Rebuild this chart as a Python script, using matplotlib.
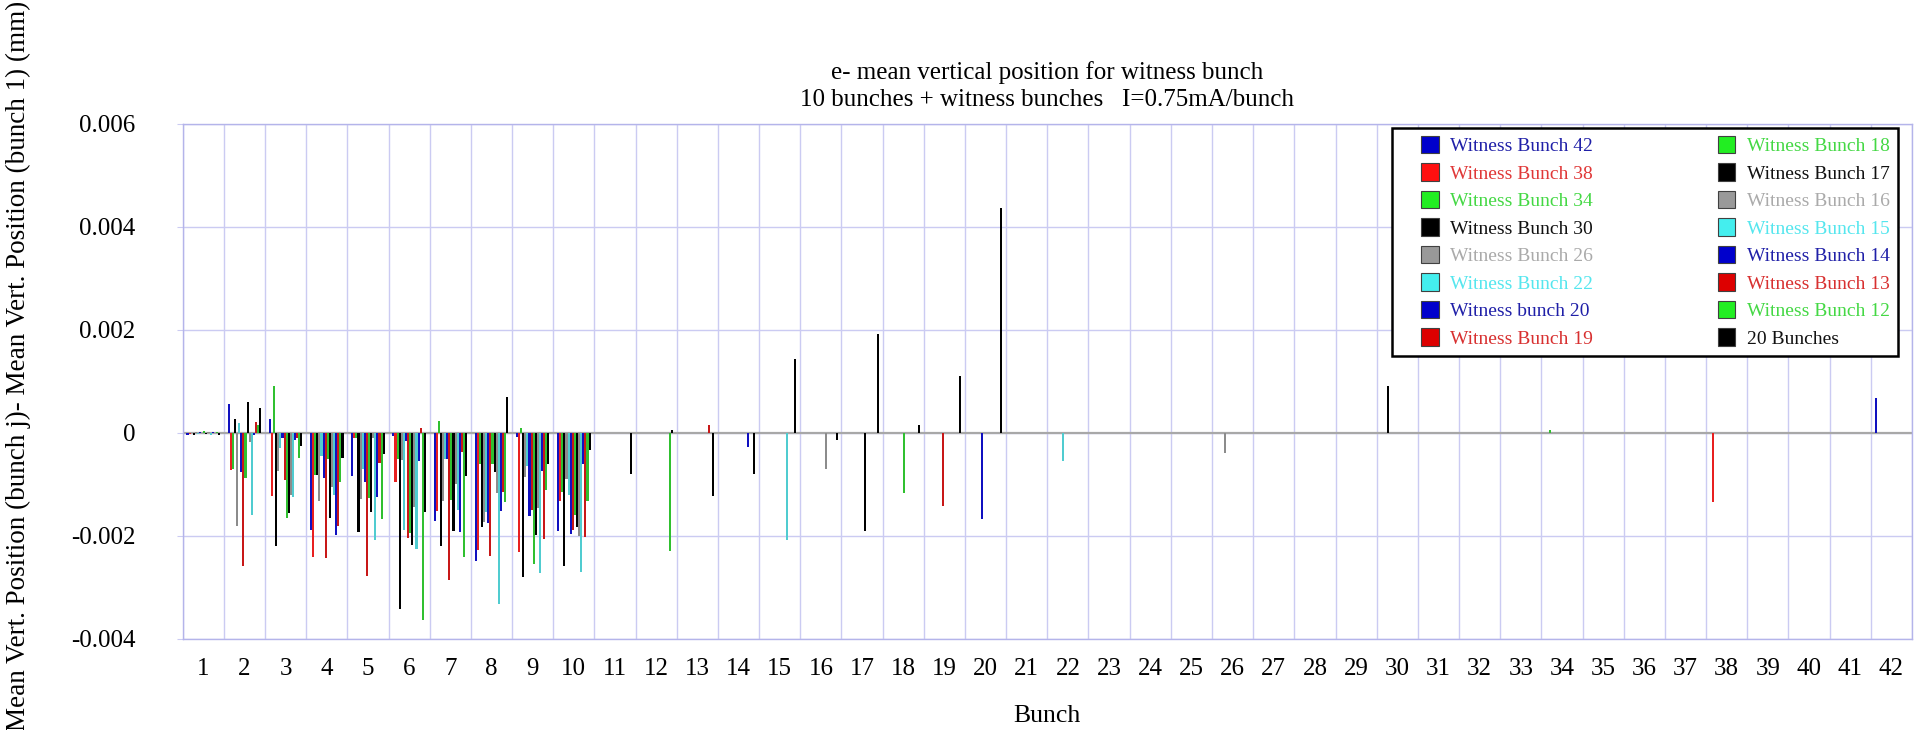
import numpy as np
import matplotlib
matplotlib.use("Agg")
import matplotlib.pyplot as plt
from matplotlib.patches import Rectangle
from matplotlib.legend_handler import HandlerPatch

plt.rcParams['font.family'] = ['Liberation Serif', 'DejaVu Serif']
plt.rcParams['axes.unicode_minus'] = False

# ---- data ---------------------------------------------------------------
bunches = np.arange(1, 43)

series_names = ["Witness Bunch 42", "Witness Bunch 38", "Witness Bunch 34",
                "Witness Bunch 30", "Witness Bunch 26", "Witness Bunch 22",
                "Witness bunch 20", "Witness Bunch 19", "Witness Bunch 18",
                "Witness Bunch 17", "Witness Bunch 16", "Witness Bunch 15",
                "Witness Bunch 14", "Witness Bunch 13", "Witness Bunch 12",
                "20 Bunches"]

# the witness bunch of each series (None for the 20 bunch train)
witness_bunch = [42, 38, 34, 30, 26, 22, 20, 19, 18, 17, 16, 15, 14, 13, 12, None]
witness_value = [0.00067, -0.00135, 0.00006, 0.00091, -0.00038, -0.00054,
                 -0.00167, -0.00141, -0.00116, -0.0019, -0.0007, -0.00207,
                 -0.00028, 0.00016, -0.0023, None]

# values at bunches 1..10 (the 10 bunch train)
wb42 = [-0.00003, 0.00057, 0.00027, -0.00188, -0.00083, -0.00005, -0.0017, -0.00249, -0.00008, -0.0019]
wb38 = [-0.00002, -0.00072, -0.00122, -0.0024, -0.0001, -0.00095, -0.00151, -0.00228, -0.00232, -0.00133]
wb34 = [-0.00001, -0.0007, 0.00091, -0.00081, -0.0001, -0.0005, 0.00024, -0.0006, 0.0001, -0.00114]
wb30 = [-0.00003, 0.00027, -0.00219, -0.00081, -0.00193, -0.00342, -0.0022, -0.00182, -0.0028, -0.00258]
wb26 = [0.00001, -0.0018, -0.00073, -0.00133, -0.00128, -0.00053, -0.00133, -0.00172, -0.00085, -0.0009]
wb22 = [-0.00002, 0.0002, -0.0003, -0.00045, -0.0007, -0.00189, -0.0005, -0.00153, -0.00065, -0.0012]
wb20 = [0.00002, -0.00075, -0.0001, -0.00087, -0.00096, -0.00016, -0.00051, -0.00174, -0.00161, -0.00197]
wb19 = [-0.00001, -0.00258, -0.00091, -0.00242, -0.00277, -0.00203, -0.00285, -0.00238, -0.0015, -0.00189]
wb18 = [0.00003, -0.00087, -0.00165, -0.0005, -0.00127, -0.00194, -0.0013, -0.0006, -0.00254, -0.0016]
wb17 = [-0.00002, 0.0006, -0.00155, -0.00166, -0.00153, -0.00218, -0.0019, -0.00075, -0.00198, -0.00182]
wb16 = [0.00001, -0.00017, -0.0012, -0.00104, -0.0001, -0.00143, -0.001, -0.00117, -0.00146, -0.002]
wb15 = [-0.00003, -0.0016, -0.00124, -0.0012, -0.00208, -0.00226, -0.0015, -0.00333, -0.00272, -0.0027]
wb14 = [0.00002, -0.00004, -0.00013, -0.00198, -0.00124, -0.00055, -0.00193, -0.00151, -0.00073, -0.0006]
wb13 = [-0.00001, 0.00022, -0.0001, -0.0018, -0.00059, 0.0001, -0.00036, -0.00114, -0.00205, -0.00202]
wb12 = [0.00002, 0.00016, -0.00049, -0.00096, -0.00168, -0.00363, -0.0024, -0.00134, -0.00111, -0.00132]
# 20 bunch train, bunches 1..20
twenty_bunches = [-0.00003, 0.00049, -0.00025, -0.00049, -0.0004, -0.00153, -0.00083, 0.00069,
                  -0.0006, -0.00034, -0.0008, 0.00005, -0.00122, -0.0008, 0.00143, -0.00013,
                  0.00193, 0.00015, 0.0011, 0.00437]

first_ten = [wb42, wb38, wb34, wb30, wb26, wb22, wb20, wb19, wb18, wb17,
             wb16, wb15, wb14, wb13, wb12]

yticks = [-0.004, -0.002, 0, 0.002, 0.004, 0.006]
ytick_labels = ["-0.004", "-0.002", "0", "0.002", "0.004", "0.006"]

# ---- styles -------------------------------------------------------------
bar_colors = ['#1010C0', '#E82020', '#30C030', '#000000', '#8C8C8C', '#50CCD0',
              '#1010C0', '#C81818', '#30C030', '#000000', '#8C8C8C', '#50CCD0',
              '#1010C0', '#C81818', '#30C030', '#000000']
swatch_colors = ['#0000CC', '#FF1010', '#22EE22', '#000000', '#999999', '#44EEEE',
                 '#0000CC', '#DD0000', '#22EE22', '#000000', '#999999', '#44EEEE',
                 '#0000CC', '#DD0000', '#22EE22', '#000000']
text_colors = ['#2020A8', '#E03838', '#44D844', '#111111', '#AAAAAA', '#55E6EE',
               '#2020A8', '#D83030', '#44D844', '#111111', '#AAAAAA', '#55E6EE',
               '#2020A8', '#D83030', '#44D844', '#111111']
grid_color = '#CBCBF2'

fig = plt.figure(figsize=(19.15, 7.30), dpi=100)
ax = fig.add_axes([0.0954, 0.1247, 0.9030, 0.7055])

n = len(series_names)
w = 0.051
for i in range(n):
    vals = np.zeros(len(bunches))
    if i < 15:
        vals[:10] = first_ten[i]
        vals[witness_bunch[i] - 1] = witness_value[i]
    else:
        vals[:20] = twenty_bunches
    ax.bar(bunches + (i - (n - 1) / 2) * w, vals, width=w, color=bar_colors[i],
           linewidth=0, zorder=3)

ax.axhline(0, color='#A8A8A8', lw=1.6, zorder=2)

ax.set_xlim(0.5, 42.5)
ax.set_ylim(-0.004, 0.006)
ax.set_yticks(yticks)
ax.set_yticklabels(ytick_labels)
ax.set_xticks(bunches)
ax.set_xticklabels([str(b) for b in bunches])
ax.set_xticks(np.arange(0.5, 43, 1), minor=True)
ax.grid(True, which='minor', axis='x', color=grid_color, lw=1.0, zorder=0)
ax.grid(True, which='major', axis='y', color=grid_color, lw=1.0, zorder=0)
ax.set_axisbelow(True)
ax.tick_params(axis='x', which='both', length=0, pad=14, labelsize=18)
ax.tick_params(axis='y', length=4, color=grid_color, pad=30, labelsize=18)
for s in ax.spines.values():
    s.set_color('#B4B4EA')
    s.set_linewidth(1.0)

ax.set_title("e- mean vertical position for witness bunch\n"
             "10 bunches + witness bunches   I=0.75mA/bunch",
             fontsize=18, pad=13, linespacing=1.3)

fig.text(18 / 1915, 1 - 366 / 730,
         "Mean Vert. Position (bunch j)- Mean Vert. Position (bunch 1) (mm)",
         rotation=90, ha='center', va='center', fontsize=19.5)
fig.text(1047 / 1915, 1 - 716 / 730, "Bunch", ha='center', va='center', fontsize=18.5)


def square_patch(legend, orig_handle, xdescent, ydescent, width, height, fontsize):
    return Rectangle((width - height - xdescent, -ydescent), height, height)


handles = [Rectangle((0, 0), 1, 1, facecolor=c, edgecolor='#404040', linewidth=0.8)
           for c in swatch_colors]
leg = ax.legend(handles, series_names, ncol=2, loc='upper left',
                bbox_to_anchor=(0.6993, 0.5456, 0.2926, 0.4466), mode='expand',
                fontsize=14, frameon=True, fancybox=False, framealpha=1,
                edgecolor='black', borderpad=0.4, labelspacing=0.42,
                handlelength=2.0, handleheight=1.0, handletextpad=0.6,
                borderaxespad=0,
                handler_map={Rectangle: HandlerPatch(patch_func=square_patch)})
leg.get_frame().set_linewidth(1.8)
leg.set_zorder(6)
for t, c in zip(leg.get_texts(), text_colors):
    t.set_color(c)

fig.savefig("out.png", dpi=100)
